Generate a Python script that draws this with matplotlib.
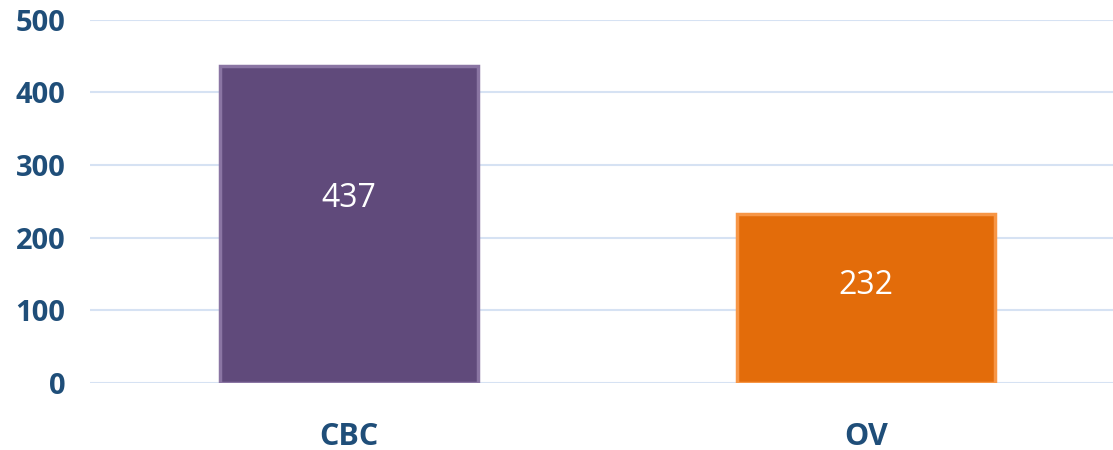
import matplotlib.pyplot as plt
import numpy as np

categories = ["CBC", "OV"]
values = [437, 232]
bar_colors = ["#604A7B", "#E36C0A"]
edge_colors = ["#8A75A3", "#F79646"]
yticks = [0, 100, 200, 300, 400, 500]

plt.rcParams['font.family'] = ['Open Sans', 'DejaVu Sans']

fig = plt.figure(figsize=(11.13, 4.5), dpi=100)
ax = fig.add_axes([0.0813, 0.149, 0.929, 0.807])

x = np.arange(len(categories))
bars = ax.bar(x, values, width=0.5, color=bar_colors, edgecolor=edge_colors,
              linewidth=2.5, zorder=3)

# étiquettes un peu au-dessus du milieu, comme dans Excel
for b, v in zip(bars, values):
    ax.text(b.get_x() + b.get_width() / 2, v * 0.58, str(v), ha='center', va='center',
            color='white', fontsize=23, zorder=4)

ax.set_xlim(-0.5, 1.5)
ax.set_ylim(0, 500)
ax.set_yticks(yticks)
ax.set_xticks(x)
ax.set_xticklabels(categories)
ax.yaxis.grid(True, color='#D6E2F3', linewidth=1.5, zorder=0)
ax.set_axisbelow(True)
for s in ax.spines.values():
    s.set_visible(False)
ax.tick_params(axis='both', length=0, colors='#1F4E79')
ax.tick_params(axis='y', pad=18, labelsize=21)
ax.tick_params(axis='x', pad=28, labelsize=22)
for lbl in ax.get_xticklabels() + ax.get_yticklabels():
    lbl.set_fontweight('bold')

fig.savefig('out.png', dpi=100)
